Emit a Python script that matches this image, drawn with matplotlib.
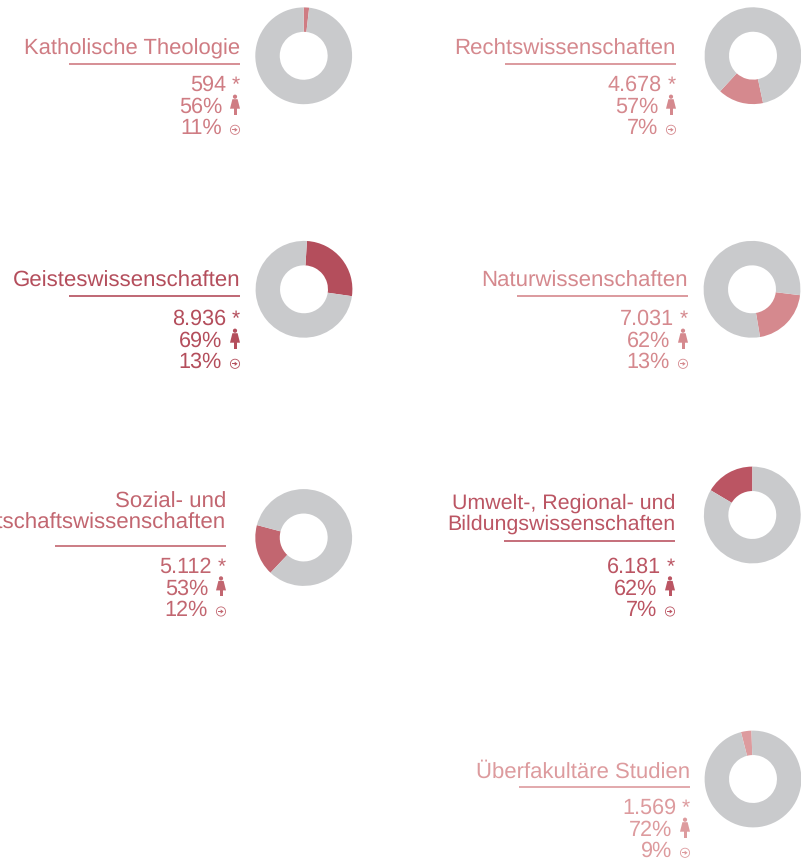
# donut panels for the faculties, all positions in pixels of the 801x860 image
import matplotlib
matplotlib.use('Agg')
import matplotlib.pyplot as plt
from matplotlib.patches import Circle, Polygon, Rectangle

plt.rcParams['font.family'] = ['Liberation Sans', 'DejaVu Sans']
plt.rcParams['text.hinting'] = 'no_hinting'
plt.rcParams['text.hinting_factor'] = 8

W, H = 801, 860

# Data
titles = [['Katholische Theologie'], ['Rechtswissenschaften'], ['Geisteswissenschaften'],
          ['Naturwissenschaften'], ['Sozial- und', 'Wirtschaftswissenschaften'],
          ['Umwelt-, Regional- und', 'Bildungswissenschaften'], ['Überfakultäre Studien']]
students = ['594', '4.678', '8.936', '7.031', '5.112', '6.181', '1.569']
women = ['56%', '57%', '69%', '62%', '53%', '62%', '72%']
entry = ['11%', '7%', '13%', '13%', '12%', '7%', '9%']
slice_share = [1.8, 15.2, 26.3, 20.4, 17.1, 16.5, 3.5]    # percent of the ring
slice_start = [0, 168, 3.5, 97, 223.3, 300.7, 345.6]      # degrees clockwise from top

# Layout
colors = ['#cf7c83', '#d5898e', '#b44e5c', '#d5898e', '#c26670', '#bb5563', '#dd9b9e']
grey = '#c9cacc'
centers = [(303.7, 55.8), (753, 55.7), (304, 289.3), (752, 289.3),
           (303.7, 537.5), (752.3, 515), (753, 779)]
right_x = [240, 676, 240, 688, 226, 675, 690]
rule_y = [64, 64, 295.7, 295.7, 545.7, 541, 786.7]
title_y = [54.5, 54.5, 287, 287, 529, 530, 778]
row_y = [91, 91, 325, 325, 572.7, 572.7, 814]
title_fs = [15.85, 16, 16, 16, 16, 15.4, 15.95]
radius = 48.4
fs = 15.6

fig = plt.figure(figsize=(W / 100, H / 100), dpi=100)
over = fig.add_axes([0, 0, 1, 1])
over.set_xlim(0, W)
over.set_ylim(H, 0)
over.axis('off')


def woman_icon(x, base, c):
    over.add_patch(Circle((x, base - 16), 2.1, fc=c, ec='none'))
    over.add_patch(Polygon([(x - 2.6, base - 13.5), (x + 2.6, base - 13.5), (x + 5, base - 4),
                            (x - 5, base - 4)], fc=c, ec='none'))
    over.add_patch(Rectangle((x - 1.5, base - 5), 3, 7, fc=c, ec='none'))


def entry_icon(x, base, c):
    y = base - 4
    over.add_patch(Circle((x, y), 4.6, fc='none', ec=c, lw=0.6))
    over.add_patch(Rectangle((x - 3.4, y - 0.6), 3.6, 1.2, fc=c, ec='none'))
    over.add_patch(Polygon([(x - 0.3, y - 2.1), (x + 2.6, y), (x - 0.3, y + 2.1)], fc=c, ec='none'))


for i in range(len(titles)):
    c = colors[i]
    rx = right_x[i]

    # donut
    cx, cy = centers[i]
    m = radius * 1.02
    ax = fig.add_axes([(cx - m) / W, 1 - (cy + m) / H, 2 * m / W, 2 * m / H])
    ax.pie([slice_share[i], 100 - slice_share[i]], colors=[c, grey], radius=1,
           startangle=90 - slice_start[i], counterclock=False, wedgeprops={'width': 0.505})
    ax.set_xlim(-1.02, 1.02)
    ax.set_ylim(-1.02, 1.02)

    # title, last line sits above the rule
    lines = titles[i]
    for j, line in enumerate(lines):
        y = title_y[i] - (len(lines) - 1 - j) * 21.3
        over.text(rx, y, line, color=c, fontsize=title_fs[i], ha='right', va='baseline')
    over.plot([rx - 171, rx], [rule_y[i], rule_y[i]], color=c, lw=1.2, solid_capstyle='butt')

    # numbers
    r = row_y[i]
    over.text(rx - 14, r, students[i], color=c, fontsize=fs, ha='right', va='baseline')
    over.text(rx, r, '*', color=c, fontsize=15, ha='right', va='baseline')
    over.text(rx - 18, r + 21.7, women[i], color=c, fontsize=fs, ha='right', va='baseline')
    woman_icon(rx - 5, r + 21.7, c)
    over.text(rx - 18, r + 42.8, entry[i], color=c, fontsize=fs, ha='right', va='baseline')
    entry_icon(rx - 5, r + 42.8, c)

fig.savefig('out.png', dpi=100)
